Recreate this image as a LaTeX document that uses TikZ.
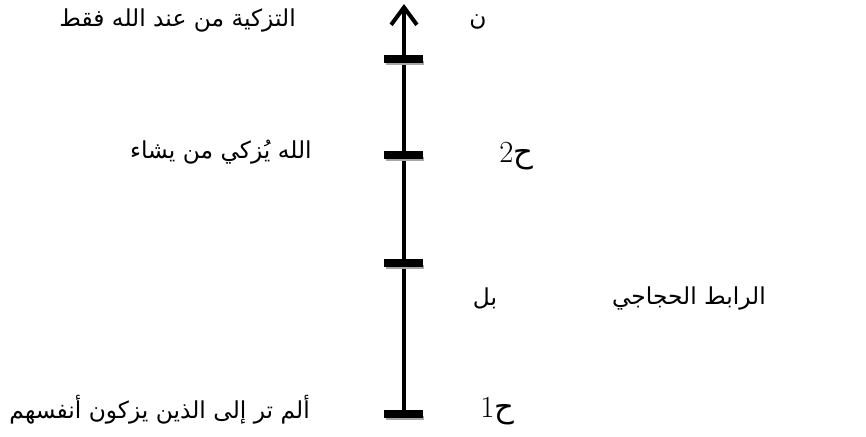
\documentclass[tikz,border=0pt]{standalone}
\usepackage{fontspec}
\usepackage{tikz}
\usetikzlibrary{arrows.meta,positioning}
\newfontfamily\arabicfont[Script=Arabic]{DejaVu Sans}
\TeXXeTstate=1
\definecolor{axisink}{HTML}{000000}
\definecolor{tickshade}{HTML}{A6A6A6}
\tikzset{
  axisline/.style={line width=3.4pt,color=axisink,-{Straight Barb[length=4.6mm,width=6.8mm,line width=3pt]}},
  tickbar/.style={line width=5.5pt,color=axisink},
  tickshadow/.style={line width=3pt,color=tickshade},
  arlabel/.style={font=\arabicfont\fontsize{17.5}{21}\selectfont,inner sep=0pt},
  hlabel/.style={font=\fontsize{23}{27}\selectfont,inner sep=0pt},
}

\begin{document}
\begin{tikzpicture}[x=0.75pt,y=-0.75pt]
  \useasboundingbox (0,0) rectangle (866,436);
  % axis and its marks
  \coordinate (base) at (404,418);
  \coordinate (tip) at (404,4);
  \coordinate (m1) at (404,414);
  \coordinate (m2) at (404,263);
  \coordinate (m3) at (404,155);
  \coordinate (m4) at (404,59);
  \draw[axisline] (base) -- (tip);
  \foreach \m in {m1,m2,m3,m4}{
    \draw[tickshadow] (\m) ++(-18,4) -- ++(38,0);
    \draw[tickbar] (\m) ++(-20,0) -- ++(39,0);
  }
  % labels
  \node[arlabel] (nun) at (478,22) {\beginR ن\endR};
  \node[arlabel,anchor=east] (goal) at (296,20) {\beginR التزكية من عند الله فقط\endR};
  \node[hlabel,anchor=west] (h2) at (499,156) {\beginR{\arabicfont ح}2\endR};
  \node[arlabel,anchor=east] (arg2) at (312,152) {\beginR الله يُزكي من يشاء\endR};
  \node[arlabel] (bal) at (485,298) {\beginR بل\endR};
  \node[arlabel,anchor=east] (link) at (766,298) {\beginR الرابط الحجاجي\endR};
  \node[hlabel,anchor=west] (h1) at (480,411) {\beginR{\arabicfont ح}1\endR};
  \node[arlabel,anchor=east] (arg1) at (310,410) {\beginR ألم تر إلى الذين يزكون أنفسهم\endR};
\end{tikzpicture}
\end{document}
